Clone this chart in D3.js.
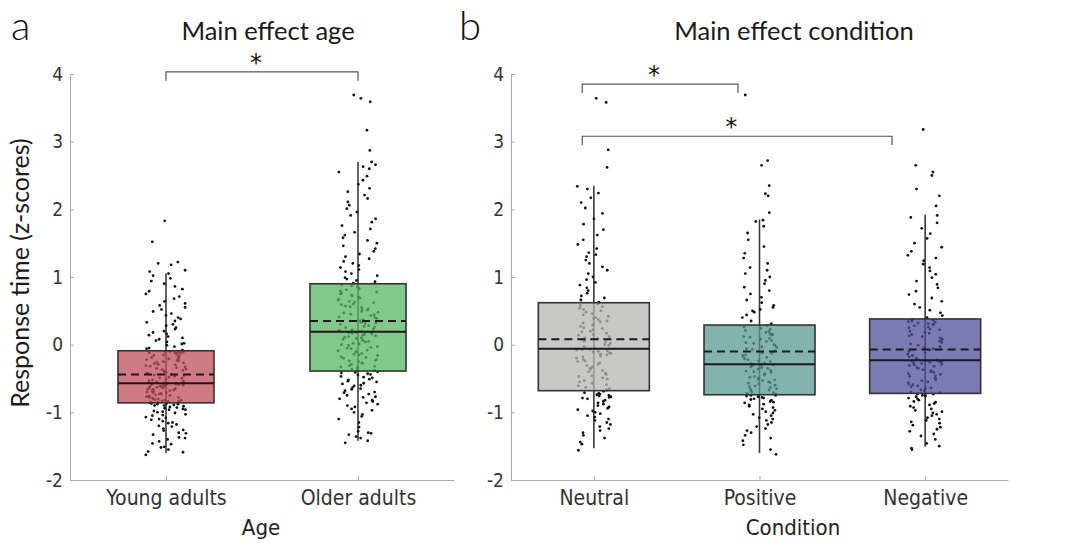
<!DOCTYPE html>
<html>
<head>
<meta charset="utf-8">
<script src="https://cdn.jsdelivr.net/npm/d3@7"></script>
<style>
  body { margin: 0; background: #fff; }
  svg { display: block; }
</style>
</head>
<body>
<script>
// ---- data ----
const ageCats = ['Young adults', 'Older adults'];
const condCats = ['Neutral', 'Positive', 'Negative'];
const yTicks = [-2, -1, 0, 1, 2, 3, 4];

// box stats (z-scores)
const ageQ1 = [-0.86, -0.39];
const ageMedian = [-0.57, 0.19];
const ageQ3 = [-0.09, 0.90];
const ageMean = [-0.44, 0.35];
const ageWhiskLo = [-1.60, -1.42];
const ageWhiskHi = [1.05, 2.70];

const condQ1 = [-0.68, -0.74, -0.72];
const condMedian = [-0.06, -0.29, -0.23];
const condQ3 = [0.62, 0.29, 0.38];
const condMean = [0.08, -0.10, -0.07];
const condWhiskLo = [-1.53, -1.60, -1.51];
const condWhiskHi = [2.35, 1.85, 1.92];

// individual observations (estimated)
const youngPts = [
  -1.63,-1.59,-1.58,-1.55,-1.52,-1.51,-1.47,-1.46,-1.43,-1.40,-1.38,-1.37,-1.33,-1.31,-1.30,-1.27,-1.26,-1.24,-1.21,-1.20,
  -1.18,-1.16,-1.15,-1.13,-1.11,-1.10,-1.08,-1.07,-1.05,-1.04,-1.03,-1.01,-1.00,-0.99,-0.98,-0.96,-0.96,-0.95,-0.94,-0.93,
  -0.92,-0.91,-0.90,-0.90,-0.89,-0.88,-0.88,-0.87,-0.87,-0.86,
  -0.85,-0.85,-0.84,-0.84,-0.83,-0.82,-0.82,-0.81,-0.80,-0.80,-0.79,-0.78,-0.78,-0.77,-0.76,-0.76,-0.75,-0.74,-0.73,-0.73,
  -0.72,-0.71,-0.71,-0.70,-0.69,-0.68,-0.68,-0.67,-0.66,-0.66,-0.65,-0.64,-0.64,-0.63,-0.62,-0.62,-0.61,-0.61,-0.60,-0.60,
  -0.59,-0.59,-0.58,-0.58,-0.58,-0.57,-0.57,-0.57,-0.56,-0.56,
  -0.55,-0.54,-0.53,-0.52,-0.51,-0.50,-0.49,-0.48,-0.47,-0.46,-0.45,-0.44,-0.43,-0.42,-0.41,-0.40,-0.39,-0.38,-0.37,-0.36,
  -0.35,-0.34,-0.33,-0.32,-0.31,-0.30,-0.29,-0.28,-0.27,-0.26,-0.25,-0.24,-0.23,-0.22,-0.21,-0.20,-0.19,-0.18,-0.17,-0.16,
  -0.15,-0.14,-0.13,-0.13,-0.12,-0.12,-0.11,-0.11,-0.10,-0.10,
  -0.08,-0.06,-0.05,-0.03,-0.01,0.01,0.02,0.04,0.06,0.08,0.10,0.12,0.14,0.16,0.18,0.20,0.23,0.25,0.28,0.30,
  0.33,0.35,0.38,0.40,0.43,0.46,0.49,0.52,0.55,0.58,0.61,0.64,0.68,0.71,0.75,0.79,0.82,0.86,0.90,0.94,
  0.98,1.02,1.05,1.08,1.10,1.18,1.20,1.22,1.52,1.83
];
const olderPts = [
  -1.45,-1.42,-1.38,-1.36,-1.33,-1.31,-1.30,-1.28,-1.22,-1.15,-1.10,-1.06,-1.03,-1.00,-0.97,-0.95,-0.92,-0.90,-0.88,-0.86,
  -0.84,-0.82,-0.80,-0.78,-0.77,-0.75,-0.73,-0.71,-0.70,-0.68,-0.66,-0.65,-0.63,-0.61,-0.60,-0.58,-0.57,-0.55,-0.54,-0.52,
  -0.51,-0.49,-0.48,-0.47,-0.45,-0.44,-0.43,-0.42,-0.41,-0.40,
  -0.38,-0.37,-0.36,-0.34,-0.33,-0.32,-0.31,-0.29,-0.28,-0.27,-0.25,-0.24,-0.23,-0.22,-0.20,-0.19,-0.18,-0.16,-0.15,-0.14,
  -0.13,-0.11,-0.10,-0.09,-0.08,-0.06,-0.05,-0.04,-0.03,-0.01,0.00,0.01,0.02,0.04,0.05,0.06,0.07,0.08,0.09,0.10,
  0.11,0.12,0.13,0.14,0.15,0.16,0.17,0.17,0.18,0.18,
  0.20,0.21,0.22,0.23,0.25,0.26,0.27,0.28,0.30,0.31,0.32,0.33,0.35,0.36,0.37,0.39,0.40,0.41,0.43,0.44,
  0.45,0.47,0.48,0.49,0.51,0.52,0.53,0.55,0.56,0.57,0.59,0.60,0.62,0.63,0.64,0.66,0.67,0.69,0.70,0.72,
  0.73,0.75,0.76,0.78,0.79,0.81,0.83,0.85,0.87,0.89,
  0.91,0.93,0.95,0.97,0.99,1.02,1.05,1.08,1.11,1.14,1.17,1.20,1.23,1.27,1.30,1.34,1.38,1.42,1.46,1.50,
  1.54,1.58,1.62,1.66,1.71,1.76,1.81,1.86,1.91,1.96,2.01,2.06,2.11,2.16,2.21,2.26,2.31,2.37,2.43,2.49,
  2.55,2.60,2.63,2.66,2.70,2.87,3.17,3.59,3.64,3.69
];
const neutralPts = [
  -1.56,-1.47,-1.44,-1.38,-1.34,-1.30,-1.27,-1.24,-1.21,-1.18,-1.15,-1.12,-1.10,-1.07,-1.05,-1.02,-1.00,-0.98,-0.96,-0.94,
  -0.92,-0.90,-0.88,-0.86,-0.84,-0.82,-0.80,-0.79,-0.78,-0.77,-0.76,-0.75,-0.74,-0.73,-0.72,-0.71,-0.69,
  -0.67,-0.65,-0.63,-0.61,-0.59,-0.57,-0.55,-0.53,-0.51,-0.49,-0.47,-0.46,-0.44,-0.42,-0.40,-0.38,-0.36,-0.35,-0.33,-0.31,
  -0.29,-0.27,-0.25,-0.24,-0.22,-0.20,-0.18,-0.17,-0.15,-0.14,-0.13,-0.12,-0.11,-0.10,-0.09,-0.08,-0.07,-0.07,
  -0.05,-0.03,-0.01,0.00,0.02,0.04,0.05,0.07,0.09,0.10,0.12,0.14,0.15,0.17,0.19,0.20,0.22,0.24,0.25,0.27,
  0.29,0.30,0.32,0.34,0.35,0.37,0.39,0.40,0.42,0.44,0.46,0.48,0.50,0.52,0.54,0.56,0.58,0.60,
  0.63,0.66,0.69,0.72,0.76,0.80,0.84,0.88,0.92,0.96,1.00,1.05,1.10,1.15,1.20,1.25,1.30,1.33,1.36,1.42,
  1.48,1.55,1.62,1.70,1.78,1.86,1.94,2.02,2.10,2.17,2.24,2.30,2.34,2.62,2.88,3.58,3.64
];
const positivePts = [
  -1.62,-1.55,-1.48,-1.42,-1.38,-1.34,-1.30,-1.27,-1.24,-1.21,-1.18,-1.15,-1.12,-1.10,-1.08,-1.05,-1.03,-1.01,-0.99,-0.97,
  -0.95,-0.93,-0.91,-0.89,-0.88,-0.86,-0.85,-0.84,-0.82,-0.81,-0.80,-0.79,-0.78,-0.77,-0.76,-0.75,-0.75,
  -0.73,-0.72,-0.71,-0.70,-0.68,-0.67,-0.66,-0.65,-0.63,-0.62,-0.61,-0.60,-0.58,-0.57,-0.56,-0.55,-0.53,-0.52,-0.51,-0.49,
  -0.48,-0.47,-0.45,-0.44,-0.43,-0.41,-0.40,-0.39,-0.38,-0.36,-0.35,-0.34,-0.33,-0.32,-0.31,-0.30,-0.30,-0.29,
  -0.28,-0.27,-0.25,-0.24,-0.22,-0.21,-0.19,-0.18,-0.16,-0.15,-0.13,-0.12,-0.10,-0.09,-0.07,-0.06,-0.04,-0.03,-0.01,0.00,
  0.02,0.03,0.05,0.06,0.08,0.09,0.11,0.12,0.14,0.15,0.17,0.18,0.20,0.21,0.23,0.24,0.26,0.28,
  0.31,0.35,0.40,0.44,0.48,0.50,0.52,0.55,0.58,0.62,0.66,0.70,0.75,0.80,0.85,0.90,0.95,1.00,1.05,1.10,
  1.14,1.20,1.28,1.35,1.45,1.55,1.65,1.75,1.82,1.84,1.95,2.20,2.23,2.35,2.65,2.72,3.69
];
const negativePts = [
  -1.55,-1.53,-1.50,-1.46,-1.40,-1.35,-1.32,-1.28,-1.25,-1.22,-1.19,-1.16,-1.14,-1.12,-1.10,-1.08,-1.05,-1.03,-1.01,-0.99,
  -0.97,-0.95,-0.93,-0.91,-0.89,-0.87,-0.85,-0.84,-0.82,-0.80,-0.79,-0.77,-0.76,-0.75,-0.74,-0.73,-0.73,
  -0.71,-0.70,-0.68,-0.67,-0.65,-0.64,-0.62,-0.61,-0.59,-0.58,-0.56,-0.55,-0.53,-0.52,-0.50,-0.49,-0.47,-0.46,-0.44,-0.43,
  -0.41,-0.40,-0.38,-0.37,-0.35,-0.34,-0.32,-0.31,-0.30,-0.29,-0.28,-0.27,-0.26,-0.26,-0.25,-0.24,-0.24,-0.23,
  -0.22,-0.20,-0.18,-0.16,-0.14,-0.12,-0.10,-0.08,-0.06,-0.04,-0.03,-0.01,0.01,0.03,0.05,0.06,0.08,0.10,0.12,0.13,
  0.15,0.17,0.18,0.20,0.22,0.23,0.25,0.26,0.28,0.29,0.30,0.31,0.32,0.33,0.34,0.35,0.36,0.37,
  0.40,0.43,0.47,0.51,0.55,0.60,0.64,0.69,0.74,0.79,0.84,0.89,0.94,0.99,1.04,1.09,1.14,1.19,1.24,1.28,
  1.32,1.38,1.44,1.50,1.57,1.64,1.72,1.80,1.88,1.91,2.05,2.20,2.30,2.50,2.55,2.65,3.18
];

// significance brackets: [from (category index), to (category index), height (z)]
const ageBrackets = [[0, 1, 4.03]];
const condBrackets = [[-0.07, 0.87, 3.85], [-0.07, 1.80, 3.08]];

const ageColors = ['#bf4d5c', '#55b763'];
const condColors = ['#b5b5b3', '#589a93', '#4f4f9b'];

// ---- drawing ----
const W = 1066, H = 543;
const svg = d3.select('body').append('svg')
  .attr('width', W)
  .attr('height', H);

const tickFont = '"DejaVu Sans Condensed", "DejaVu Sans", sans-serif';
const labelFont = 'Lato, "Open Sans", sans-serif';

// deterministic horizontal scatter for the dots (hash of index)
function jitterOf(k, gi) {
  const s = Math.sin(k * 12.9898 + gi * 78.233) * 43758.5453;
  return s - Math.floor(s) - 0.5;
}

function drawPanel(opts) {
  const { left, right, top, bottom, cats, pts, q1, med, q3, mean, lo, hi,
          colors, boxFrac, brackets, title, titleX, xLabel, xLabelX, letter, letterX, yLabel, seed } = opts;

  const g = svg.append('g');

  const x = d3.scalePoint().domain(cats).range([left, right]).padding(0.5);
  const y = d3.scaleLinear().domain([-2, 4]).range([bottom, top]);
  const step = x.step();
  const boxW = step * boxFrac;
  const jit = step * 0.105;

  // axes (ticks point inward, like matlab)
  const yAxis = g.append('g')
    .attr('transform', `translate(${left},0)`)
    .call(d3.axisLeft(y).tickValues(yTicks).tickFormat(d => String(d))
      .tickSizeInner(-4).tickSizeOuter(0).tickPadding(7));
  const xAxis = g.append('g')
    .attr('transform', `translate(0,${bottom})`)
    .call(d3.axisBottom(x).tickSizeInner(-4).tickSizeOuter(0).tickPadding(10));

  [yAxis, xAxis].forEach(a => {
    a.select('.domain').attr('stroke', '#a8a8a8');
    a.selectAll('.tick line').attr('stroke', '#a8a8a8');
    a.selectAll('text')
      .style('font-family', tickFont)
      .attr('fill', '#333');
  });
  yAxis.selectAll('text').style('font-size', '19px');
  xAxis.selectAll('text').style('font-size', '21px');

  const groups = cats.map((c, i) => ({ cat: c, i, pts: pts[i] }));

  // whiskers (behind everything)
  g.selectAll('.whisker')
    .data(groups)
    .enter().append('line')
    .attr('class', 'whisker')
    .attr('x1', d => x(d.cat))
    .attr('x2', d => x(d.cat))
    .attr('y1', d => y(lo[d.i]))
    .attr('y2', d => y(hi[d.i]))
    .attr('stroke', '#3a3a3a')
    .attr('stroke-width', 1.6);

  // jittered raw points
  groups.forEach(grp => {
    g.selectAll(null)
      .data(grp.pts)
      .enter().append('circle')
      .attr('cx', (v, k) => x(grp.cat) + jitterOf(k, grp.i + seed) * 2 * jit)
      .attr('cy', v => y(v))
      .attr('r', 1.4)
      .attr('fill', '#111');
  });

  // boxes, semi transparent so dots show through darkened
  g.selectAll('.box')
    .data(groups)
    .enter().append('rect')
    .attr('class', 'box')
    .attr('x', d => x(d.cat) - boxW / 2)
    .attr('width', boxW)
    .attr('y', d => y(q3[d.i]))
    .attr('height', d => y(q1[d.i]) - y(q3[d.i]))
    .attr('fill', d => colors[d.i])
    .attr('fill-opacity', 0.75)
    .attr('stroke', '#333')
    .attr('stroke-width', 1.6);

  // median
  g.selectAll('.median')
    .data(groups)
    .enter().append('line')
    .attr('x1', d => x(d.cat) - boxW / 2)
    .attr('x2', d => x(d.cat) + boxW / 2)
    .attr('y1', d => y(med[d.i]))
    .attr('y2', d => y(med[d.i]))
    .attr('stroke', '#1a1a1a')
    .attr('stroke-width', 2);

  // mean (dashed)
  g.selectAll('.mean')
    .data(groups)
    .enter().append('line')
    .attr('x1', d => x(d.cat) - boxW / 2)
    .attr('x2', d => x(d.cat) + boxW / 2)
    .attr('y1', d => y(mean[d.i]))
    .attr('y2', d => y(mean[d.i]))
    .attr('stroke', '#1a1a1a')
    .attr('stroke-width', 2)
    .attr('stroke-dasharray', '8,5');

  // significance brackets
  const bx = t => x(cats[0]) + t * step;
  const leg = 0.13;
  brackets.forEach(b => {
    const [from, to, h] = b;
    g.append('path')
      .attr('d', `M${bx(from)},${y(h - leg)} V${y(h)} H${bx(to)} V${y(h - leg)}`)
      .attr('fill', 'none')
      .attr('stroke', '#555')
      .attr('stroke-width', 1.2);
    g.append('text')
      .attr('x', (bx(from) + bx(to)) / 2 - 6)
      .attr('y', y(h) - 1)
      .attr('text-anchor', 'middle')
      .style('font-family', '"DejaVu Sans", sans-serif')
      .style('font-size', '24px')
      .attr('fill', '#111')
      .text('*');
  });

  // titles and labels
  g.append('text')
    .attr('x', titleX)
    .attr('y', 40)
    .attr('text-anchor', 'middle')
    .style('font-family', labelFont)
    .style('font-size', '25.5px')
    .attr('fill', '#1a1a1a')
    .text(title);

  g.append('text')
    .attr('x', xLabelX)
    .attr('y', 535)
    .attr('text-anchor', 'middle')
    .style('font-family', tickFont)
    .style('font-size', '22px')
    .attr('fill', '#222')
    .text(xLabel);

  g.append('text')
    .attr('x', letterX)
    .attr('y', 40)
    .style('font-family', labelFont)
    .style('font-weight', 300)
    .style('font-size', '40px')
    .attr('fill', '#111')
    .text(letter);

  if (yLabel) {
    g.append('text')
      .attr('transform', `translate(29,${(top + bottom) / 2 - 4}) rotate(-90)`)
      .attr('text-anchor', 'middle')
      .style('font-family', labelFont)
      .style('font-size', '25px')
      .attr('fill', '#1a1a1a')
      .text(yLabel);
  }
}

drawPanel({
  left: 70, right: 454, top: 74, bottom: 480,
  cats: ageCats, pts: [youngPts, olderPts],
  q1: ageQ1, med: ageMedian, q3: ageQ3, mean: ageMean, lo: ageWhiskLo, hi: ageWhiskHi,
  colors: ageColors, boxFrac: 0.5, brackets: ageBrackets,
  title: 'Main effect age', titleX: 268, xLabel: 'Age', xLabelX: 261,
  letter: 'a', letterX: 11, yLabel: 'Response time (z-scores)', seed: 0
});

drawPanel({
  left: 511, right: 1008, top: 74, bottom: 480,
  cats: condCats, pts: [neutralPts, positivePts, negativePts],
  q1: condQ1, med: condMedian, q3: condQ3, mean: condMean, lo: condWhiskLo, hi: condWhiskHi,
  colors: condColors, boxFrac: 0.67, brackets: condBrackets,
  title: 'Main effect condition', titleX: 794, xLabel: 'Condition', xLabelX: 793,
  letter: 'b', letterX: 459, seed: 5
});
</script>
</body>
</html>
